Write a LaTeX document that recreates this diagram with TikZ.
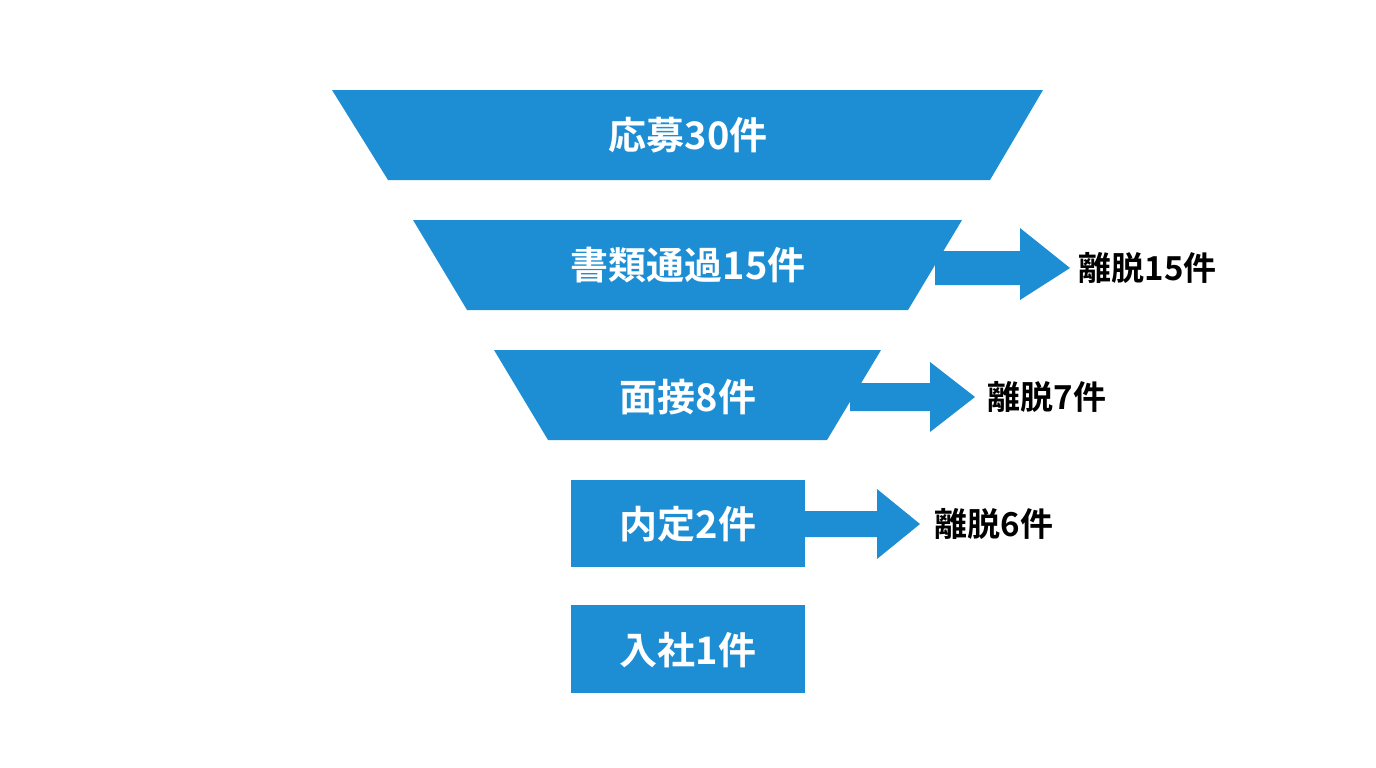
\documentclass[tikz,border=0pt]{standalone}
\usepackage{fontspec}
\newfontfamily\cjk{Noto Sans CJK JP}[BoldFont={Noto Sans CJK JP Bold}]
\definecolor{funnel}{HTML}{1E8ED4}
\tikzset{
  stage/.style={text=white, font=\cjk\bfseries\fontsize{38}{40}\selectfont},
  drop/.style={text=black, font=\cjk\bfseries\fontsize{33}{36}\selectfont, anchor=west},
}
\begin{document}
\begin{tikzpicture}[x=1pt,y=-1pt]
  \useasboundingbox (0,0) rectangle (1376,768);

  % funnel stages
  \fill[funnel] (332,90) -- (1043,90) -- (990,180) -- (388,180) -- cycle;
  \fill[funnel] (413,220) -- (962,220) -- (908,310) -- (467,310) -- cycle;
  \fill[funnel] (494,350) -- (881,350) -- (827,440) -- (548,440) -- cycle;
  \fill[funnel] (571,480) rectangle (805,567);
  \fill[funnel] (571,605) rectangle (805,693);

  \node[stage] (apply) at (688,135) {応募30件};
  \node[stage] (docs) at (688,265) {書類通過15件};
  \node[stage] (interview) at (688,397) {面接8件};
  \node[stage] (offer) at (688,524) {内定2件};
  \node[stage] (join) at (688,650) {入社1件};

  % drop-out arrows
  \fill[funnel] (935,251) -- (1020,251) -- (1020,228) -- (1070,268) -- (1020,300) -- (1020,285) -- (935,285) -- cycle;
  \fill[funnel] (850,383) -- (930,383) -- (930,362) -- (975,397) -- (930,432) -- (930,411) -- (850,411) -- cycle;
  \fill[funnel] (805,511) -- (877,511) -- (877,489) -- (920,524) -- (877,559) -- (877,537) -- (805,537) -- cycle;

  \node[drop] (drop1) at (1075,268) {離脱15件};
  \node[drop] (drop2) at (984,397) {離脱7件};
  \node[drop] (drop3) at (931,524) {離脱6件};
\end{tikzpicture}
\end{document}
